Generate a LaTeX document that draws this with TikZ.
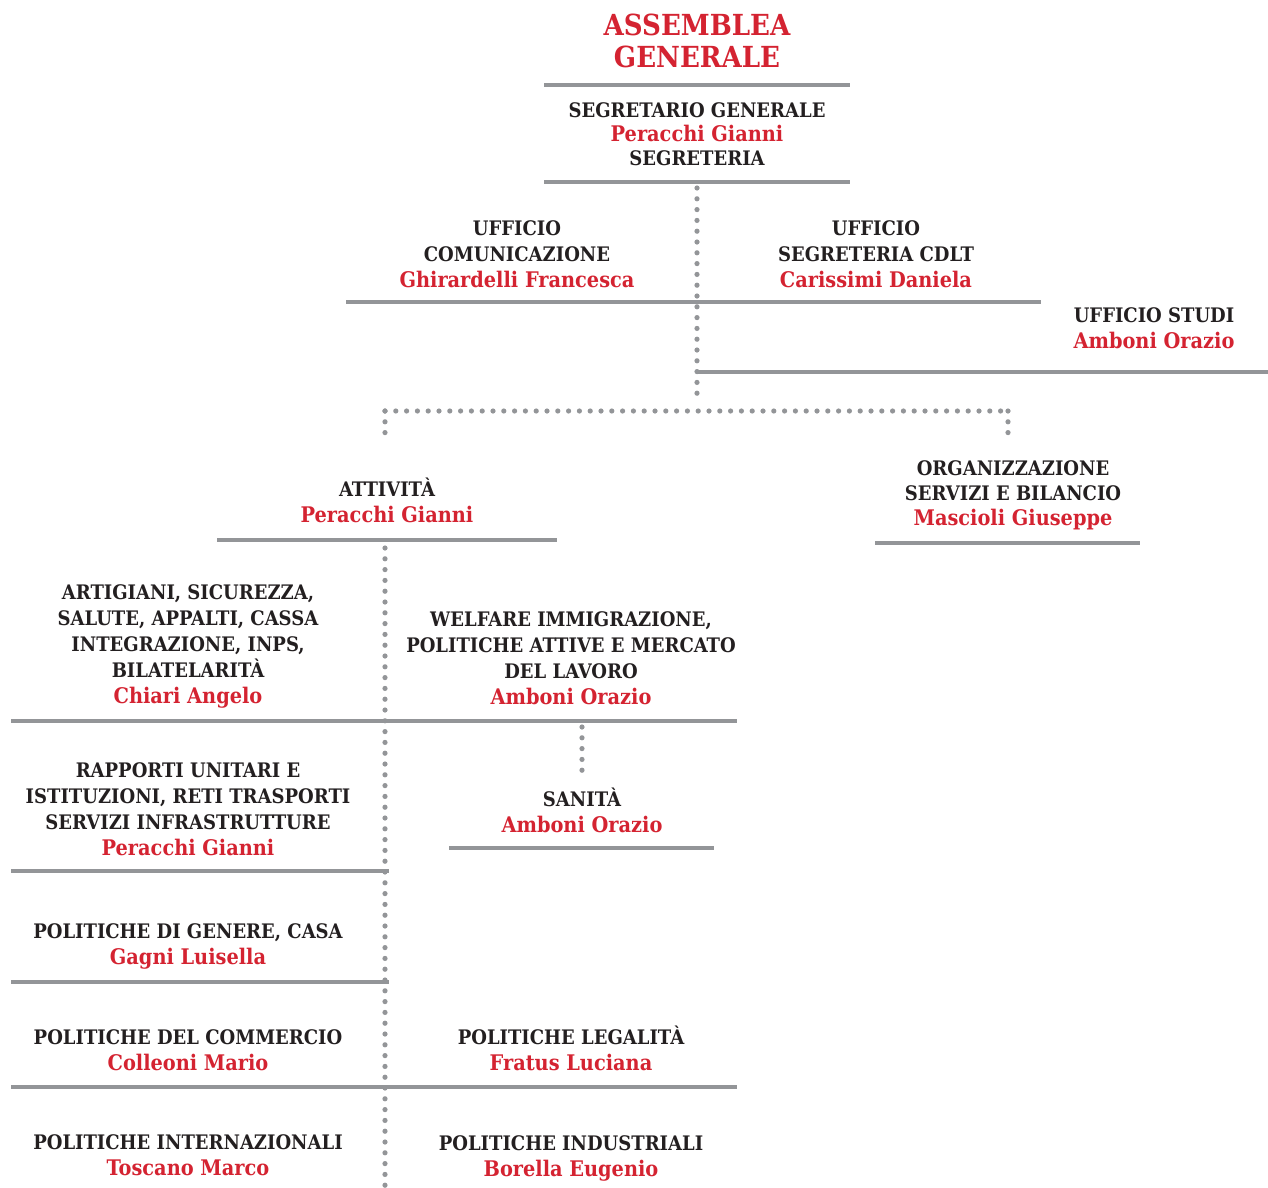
\documentclass[tikz,border=0pt]{standalone}
\usepackage{fontspec}
\setmainfont{DejaVu Serif Condensed}
\usetikzlibrary{positioning}
\definecolor{cgilred}{HTML}{D42331}
\definecolor{bargray}{HTML}{939598}
\definecolor{textdark}{HTML}{231F20}
\newcommand{\nome}[1]{\textcolor{cgilred}{\fontsize{21.5}{26}\selectfont #1}}

\begin{document}
\begin{tikzpicture}[x=1pt,y=-1pt,
		bar/.style={draw=bargray,line width=4.5pt},
		link/.style={draw=bargray,line width=5.2pt,line cap=round,dash pattern=on 0pt off 10.8pt},
		ufficio/.style={align=center,inner sep=0pt,text=textdark,font=\fontsize{20}{26}\selectfont\bfseries},
		titolo/.style={align=center,inner sep=0pt,text=cgilred,font=\fontsize{29}{32}\selectfont\bfseries}]
				\useasboundingbox (0,0) rectangle (1268,1187);
				%Nodes
				\node[titolo]  (assemblea) at (697,41) {ASSEMBLEA\\GENERALE};
				\node[ufficio,font=\fontsize{20}{24}\selectfont\bfseries] (segretario) at (697,134) {SEGRETARIO GENERALE\\\nome{Peracchi Gianni}\\SEGRETERIA};
				\node[ufficio] (comunicazione) at (517,254) {UFFICIO\\COMUNICAZIONE\\\nome{Ghirardelli Francesca}};
				\node[ufficio] (cdlt) at (876,254) {UFFICIO\\SEGRETERIA CDLT\\\nome{Carissimi Daniela}};
				\node[ufficio] (studi) at (1154,328) {UFFICIO STUDI\\\nome{Amboni Orazio}};
				\node[ufficio] (attivita) at (387,500) {ATTIVITÀ\\\nome{Peracchi Gianni}};
				\node[ufficio,font=\fontsize{20}{25}\selectfont\bfseries] (organizzazione) at (1013,495) {ORGANIZZAZIONE\\SERVIZI E BILANCIO\\\nome{Mascioli Giuseppe}};
				\node[ufficio] (artigiani) at (188,646) {ARTIGIANI, SICUREZZA,\\SALUTE, APPALTI, CASSA\\INTEGRAZIONE, INPS,\\BILATELARITÀ\\\nome{Chiari Angelo}};
				\node[ufficio] (welfare) at (571,658) {WELFARE IMMIGRAZIONE,\\POLITICHE ATTIVE E MERCATO\\DEL LAVORO\\\nome{Amboni Orazio}};
				\node[ufficio] (sanita) at (582,810) {SANITÀ\\\nome{Amboni Orazio}};
				\node[ufficio] (rapporti) at (188,809) {RAPPORTI UNITARI E\\ISTITUZIONI, RETI TRASPORTI\\SERVIZI INFRASTRUTTURE\\\nome{Peracchi Gianni}};
				\node[ufficio] (genere) at (188,946) {POLITICHE DI GENERE, CASA\\\nome{Gagni Luisella}};
				\node[ufficio] (commercio) at (188,1050) {POLITICHE DEL COMMERCIO\\\nome{Colleoni Mario}};
				\node[ufficio] (legalita) at (571,1048) {POLITICHE LEGALITÀ\\\nome{Fratus Luciana}};
				\node[ufficio] (internazionali) at (188,1155.5) {POLITICHE INTERNAZIONALI\\\nome{Toscano Marco}};
				\node[ufficio] (industriali) at (571,1158) {POLITICHE INDUSTRIALI\\\nome{Borella Eugenio}};
				
				\coordinate      (b1l) 	at 	(544,85);
				\coordinate      (b1r) 	at 	(850,85);
				\coordinate      (b2l) 	at 	(544,182);
				\coordinate      (b2r) 	at 	(850,182);
				\coordinate      (b3l) 	at 	(346,302);
				\coordinate      (b3r) 	at 	(1041,302);
				\coordinate      (b4l) 	at 	(697,372);
				\coordinate      (b4r) 	at 	(1268,372);
				\coordinate      (b5l) 	at 	(217,540);
				\coordinate      (b5r) 	at 	(557,540);
				\coordinate      (b6l) 	at 	(875,543);
				\coordinate      (b6r) 	at 	(1140,543);
				\coordinate      (b7l) 	at 	(11,721);
				\coordinate      (b7r) 	at 	(737,721);
				\coordinate      (b8l) 	at 	(449,848);
				\coordinate      (b8r) 	at 	(714,848);
				\coordinate      (b9l) 	at 	(11,871);
				\coordinate      (b9r) 	at 	(389,871);
				\coordinate      (b10l) at 	(11,982);
				\coordinate      (b10r) at 	(389,982);
				\coordinate      (b11l) at 	(11,1087);
				\coordinate      (b11r) at 	(737,1087);
				
				\coordinate      (d1) 	at 	(697,188);
				\coordinate      (d2) 	at 	(697,400);
				\coordinate      (d3) 	at 	(385,411);
				\coordinate      (d4) 	at 	(1008,411);
				\coordinate      (d5) 	at 	(385,438);
				\coordinate      (d6) 	at 	(1008,440);
				\coordinate      (d7) 	at 	(385,548);
				\coordinate      (d8) 	at 	(385,1187);
				\coordinate      (d9) 	at 	(582,727);
				\coordinate      (d10) 	at 	(582,780);
				
				%Lines
				\draw[bar] (b1l) -- (b1r);
				\draw[bar] (b2l) -- (b2r);
				\draw[bar] (b3l) -- (b3r);
				\draw[bar] (b4l) -- (b4r);
				\draw[bar] (b5l) -- (b5r);
				\draw[bar] (b6l) -- (b6r);
				\draw[bar] (b7l) -- (b7r);
				\draw[bar] (b8l) -- (b8r);
				\draw[bar] (b9l) -- (b9r);
				\draw[bar] (b10l) -- (b10r);
				\draw[bar] (b11l) -- (b11r);
				
				%Dots
				\draw[link] (d1) -- (d2);
				\draw[link] (d3) -- (d4);
				\draw[link] (d3) -- (d5);
				\draw[link] (d4) -- (d6);
				\draw[link] (d7) -- (d8);
				\draw[link] (d9) -- (d10);
		\end{tikzpicture}
\end{document}
